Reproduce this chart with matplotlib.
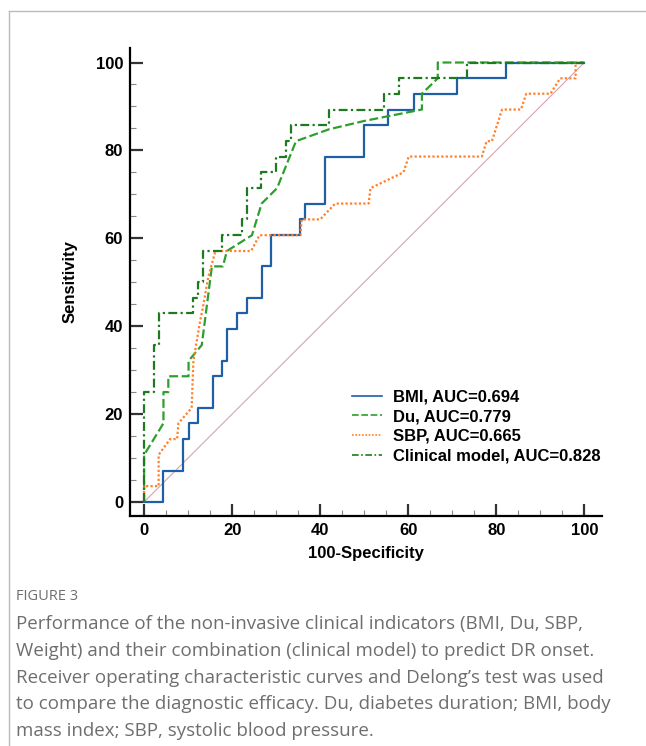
import matplotlib
matplotlib.use('Agg')
import matplotlib.pyplot as plt
from matplotlib.lines import Line2D
from matplotlib.ticker import MultipleLocator

# ROC curves (100-specificity, sensitivity)
bmi_x = [0, 4.3, 8.8, 10.1, 12.2, 15.6, 17.7, 18.9, 21.1, 23.3, 26.7, 28.9, 35.5, 36.6, 41.1, 50.0, 55.5, 61.2, 71.1, 82.2, 100]
bmi_y = [0, 7.1, 14.3, 17.9, 21.4, 28.6, 32.1, 39.3, 42.9, 46.4, 53.6, 60.7, 64.3, 67.9, 78.6, 85.7, 89.3, 92.9, 96.4, 100, 100]

du_x = [0, 0, 4.4, 4.4, 5.5, 5.5, 10.1, 10.1, 13.1, 15.4, 17.9, 18.8, 24.5, 26.7, 30.2, 34.5, 42.0, 50.0, 63.1, 63.1, 66.7, 66.7, 100]
du_y = [0, 10.7, 17.9, 25.0, 25.0, 28.6, 28.6, 32.1, 35.7, 53.6, 53.6, 57.1, 60.7, 67.9, 71.4, 82.1, 84.8, 86.7, 89.3, 92.9, 96.4, 100, 100]

sbp_x = [0, 0, 3.3, 3.3, 5.9, 7.5, 7.8, 10.8, 11.2, 12.7, 13.3, 14.6, 16.2, 24.3, 26.2, 35.5, 35.8, 40.0, 43.4, 51.0, 51.4, 58.9, 60.1, 76.7, 77.8, 79.0, 81.3, 85.6, 86.8, 92.3, 94.5, 98.0, 98.0, 100]
sbp_y = [0, 3.6, 3.6, 10.7, 14.3, 14.3, 17.9, 21.4, 32.1, 41.0, 44.0, 51.3, 57.1, 57.1, 60.7, 60.7, 64.3, 64.3, 67.9, 67.9, 71.4, 75.0, 78.6, 78.6, 82.1, 82.1, 89.3, 89.3, 92.9, 92.9, 96.4, 96.4, 100, 100]

# clinical model is a step curve: x where sensitivity jumps, y after the jump
clin_x = [0, 0, 2.3, 3.3, 11.2, 12.3, 13.3, 17.6, 22.2, 23.3, 26.6, 30.0, 32.2, 33.3, 42.1, 54.5, 57.9, 73.3, 100]
clin_y = [0, 25.0, 35.7, 42.9, 46.4, 50.0, 57.1, 60.7, 64.3, 71.4, 75.0, 78.6, 82.1, 85.7, 89.3, 92.9, 96.4, 100, 100]

labels = ['BMI, AUC=0.694', 'Du, AUC=0.779', 'SBP, AUC=0.665', 'Clinical model, AUC=0.828']

caption_head = 'FIGURE 3'
caption_lines = [
    'Performance of the non-invasive clinical indicators (BMI, Du, SBP,',
    'Weight) and their combination (clinical model) to predict DR onset.',
    'Receiver operating characteristic curves and Delong\u2019s test was used',
    'to compare the diagnostic efficacy. Du, diabetes duration; BMI, body',
    'mass index; SBP, systolic blood pressure.',
]

plt.rcParams['font.family'] = ['Liberation Sans', 'DejaVu Sans']

W, H = 646, 746
fig = plt.figure(figsize=(W / 100, H / 100), dpi=100)
ax = fig.add_axes([130 / W, 1 - 516 / H, 472 / W, 468 / H])

ax.plot([0, 100], [0, 100], color='#d8a4a8', lw=0.8, zorder=1)
ax.step(bmi_x, bmi_y, where='post', color='#1f5fa8', lw=1.6, label=labels[0], zorder=3)
ax.plot(du_x, du_y, color='#2ca02c', lw=1.6, ls=(0, (4, 1.6)), label=labels[1], zorder=3)
ax.plot(sbp_x, sbp_y, color='#ff7f2a', lw=1.6, ls=(0, (1, 1)), label=labels[2], zorder=3)
ax.step(clin_x, clin_y, where='post', color='#1e7a1e', lw=1.6, ls=(0, (4, 1.5, 1, 1.5)), label=labels[3], zorder=4)

ax.set_xlim(-3.2, 104)
ax.set_ylim(-3.2, 103.3)
for s in ['top', 'right']:
    ax.spines[s].set_visible(False)
for s in ['left', 'bottom']:
    ax.spines[s].set_linewidth(1.6)
ax.xaxis.set_minor_locator(MultipleLocator(5))
ax.yaxis.set_minor_locator(MultipleLocator(5))
ax.tick_params(which='major', direction='in', length=9, width=1.6, color='#333333', pad=5)
ax.tick_params(which='minor', direction='in', length=4, width=0.8, color='#888888')
ax.set_xticks([0, 20, 40, 60, 80, 100])
ax.set_yticks([0, 20, 40, 60, 80, 100])
for t in ax.get_xticklabels() + ax.get_yticklabels():
    t.set_fontweight('bold')
    t.set_fontsize(12)
ax.set_xlabel('100-Specificity', fontsize=12, fontweight='bold', labelpad=6)
ax.set_ylabel('Sensitivity', fontsize=12, fontweight='bold', labelpad=13)

leg = ax.legend(loc='lower right', bbox_to_anchor=(1.028, 0.08), frameon=False,
                prop={'weight': 'bold', 'size': 12}, handlelength=1.8,
                handletextpad=0.65, labelspacing=0.28)
for h in leg.get_lines():
    h.set_linewidth(1.2)

# figure frame (open at right and bottom)
fig.add_artist(Line2D([9 / W, 9 / W], [0, 1 - 11 / H], transform=fig.transFigure, color='#bbbbbb', lw=1))
fig.add_artist(Line2D([9 / W, 1], [1 - 11 / H, 1 - 11 / H], transform=fig.transFigure, color='#bbbbbb', lw=1))

fig.text(16 / W, 1 - 597 / H, caption_head, fontsize=10.5, color='#6e6e6e',
         family=['Open Sans', 'DejaVu Sans'], va='center')
for i, line in enumerate(caption_lines):
    fig.text(16 / W, 1 - (624 + i * 26.8) / H, line, fontsize=13.5, color='#6e6e6e',
             family=['Open Sans', 'DejaVu Sans'], va='center')

fig.savefig('out.png', dpi=100)
